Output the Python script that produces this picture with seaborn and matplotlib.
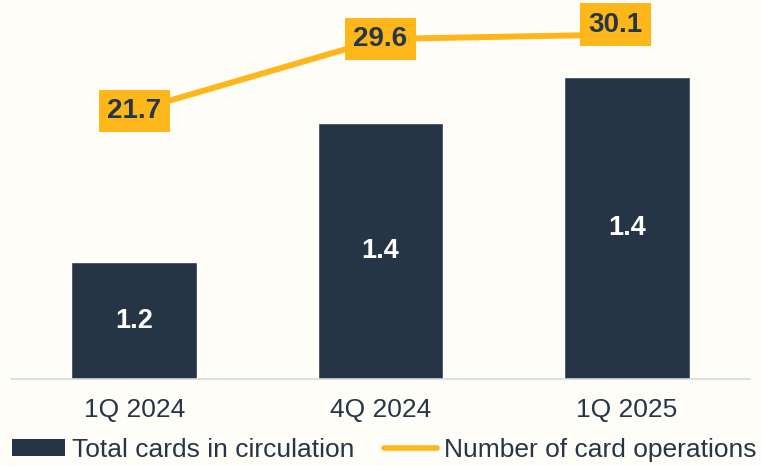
import matplotlib
matplotlib.use("Agg")
import matplotlib.pyplot as plt
import seaborn as sns
import pandas as pd
from matplotlib.patches import Patch
from matplotlib.lines import Line2D

quarters = ["1Q 2024", "4Q 2024", "1Q 2025"]
cards = [1.224, 1.372, 1.421]       # total cards in circulation (bars)
card_labels = ["1.2", "1.4", "1.4"]
operations = [21.7, 29.6, 30.1]     # number of card operations (line)
op_labels = ["21.7", "29.6", "30.1"]

navy = "#253545"
gold = "#FDB71A"
text_dark = "#263646"
bg = "#FFFDF8"

sns.set_theme(style="white")
plt.rcParams["font.family"] = ["Liberation Sans", "DejaVu Sans"]

df = pd.DataFrame({"quarter": quarters, "cards": cards, "ops": operations})

fig = plt.figure(figsize=(7.61, 4.66), dpi=100, facecolor=bg)
ax = fig.add_axes([11 / 761, 87 / 466, 739 / 761, 379 / 466])
ax.set_facecolor(bg)

sns.barplot(data=df, x="quarter", y="cards", color=navy, width=0.51,
            saturation=1, ax=ax)
ax.set_ylim(1.1, 1.1 + 379 / 940)
ax.set_xlim(-0.5, 2.5)

for i, (v, lab) in enumerate(zip(cards, card_labels)):
    ax.text(i, (1.1 + v) / 2, lab, ha="center", va="center",
            color="white", fontsize=19.5, fontweight="bold")

ax2 = ax.twinx()
sns.lineplot(data=df, x="quarter", y="ops", color=gold, linewidth=4.3,
             ax=ax2, sort=False)
ax2.set_ylim(-7.72, 33.88)

offsets = [(0, 0), (0, 0), (-8, 7)]
for i, (v, lab) in enumerate(zip(operations, op_labels)):
    ax2.annotate(lab, (i, v), xytext=offsets[i], textcoords="offset points",
                 ha="center", va="center", color=text_dark, fontsize=20,
                 fontweight="bold",
                 bbox=dict(boxstyle="square,pad=0.3", fc=gold, ec="none"))

for a in (ax, ax2):
    for s in ("top", "right", "left"):
        a.spines[s].set_visible(False)
    a.set_yticks([])
    a.set_ylabel("")
    a.set_xlabel("")
ax2.spines["bottom"].set_visible(False)
ax.spines["bottom"].set_color("#D3DBE3")
ax.spines["bottom"].set_linewidth(1.2)
ax.tick_params(axis="x", length=0, pad=14, labelsize=19, labelcolor=text_dark)

handles = [Patch(facecolor=navy, edgecolor="none"),
           Line2D([], [], color=gold, linewidth=4)]
fig.legend(handles, ["Total cards in circulation", "Number of card operations"],
           loc="center", bbox_to_anchor=(0.505, 1 - 450 / 466), ncol=2,
           frameon=False, fontsize=19, handlelength=2.0, handleheight=0.6,
           handletextpad=0.27, columnspacing=1.1, borderpad=0,
           labelcolor=text_dark)

fig.savefig("out.png", dpi=100, facecolor=bg)
